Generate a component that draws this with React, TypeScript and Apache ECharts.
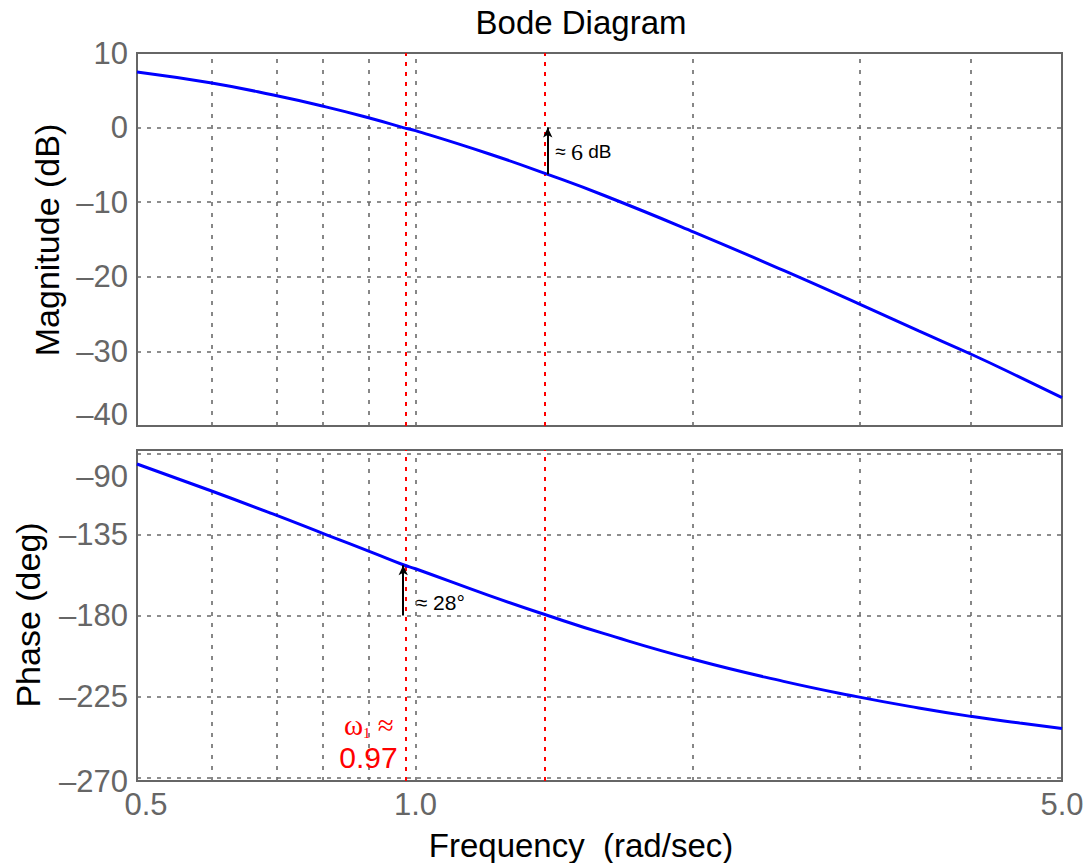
import React, { useEffect, useRef } from 'react';
import * as echarts from 'echarts';

// ---- data ----
const frequencies = [0.5, 0.6, 0.7, 0.8, 0.9, 0.97, 1.0, 1.2, 1.39, 1.6, 2.0, 2.5, 3.0, 3.5, 4.0, 4.5, 5.0];
const magnitudeDb = [7.45, 6.0, 4.4, 2.78, 1.15, 0.0, -0.4, -3.5, -6.27, -9.1, -14.0, -19.15, -23.5, -27.25, -30.45, -33.45, -36.2];
const phaseDeg = [-95.8, -110.5, -123.4, -135, -145.2, -151.8, -154, -168.8, -180, -190.1, -204.5, -216.6, -225.1, -231.4, -236.2, -239.8, -242.8];
const gridFrequencies = [0.6, 0.7, 0.8, 0.9, 1, 2, 3, 4];
const freqTickLabels = [0.5, 1.0, 5.0];
const magnitudeTicks = [-40, -30, -20, -10, 0, 10];
const phaseTicks = [-270, -225, -180, -135, -90];
const markerFrequencies = [0.97, 1.39];
const gainCrossover = 0.97;
const phaseCrossover = 1.39;
const magnitudeAtPhaseCrossover = -6.27;
const phaseAtGainCrossover = -152;

const SANS = '"Liberation Sans", Arial, Helvetica, sans-serif';
const SERIF = '"Liberation Serif", "DejaVu Serif", serif';
const TICK_COLOR = '#666666';
const GRID_COLOR = '#6a6a6a';
const TICK_FS = 31;

const LOG = (f: number) => Math.log10(f);
const minus = (v: number) => (v < 0 ? '\u2013' + Math.abs(v) : String(v));
const pts = (vals: number[]) => frequencies.map((f, i) => [LOG(f), vals[i]]);

export default function App() {
  const ref = useRef<HTMLDivElement>(null);

  useEffect(() => {
    if (!ref.current) return;
    const chart = echarts.init(ref.current, null, { renderer: 'svg' });

    const tickStyle = { fontFamily: SANS, fontSize: TICK_FS, color: TICK_COLOR };
    const vGrid = gridFrequencies.map((f) => ({
      xAxis: LOG(f),
      lineStyle: { color: GRID_COLOR, type: [4, 7], width: 1.6 },
    }));
    const hGrid = (vals: number[]) =>
      vals.map((v) => ({ yAxis: v, lineStyle: { color: GRID_COLOR, type: [4, 6], width: 1.6 } }));
    const redLines = markerFrequencies.map((f) => ({ xAxis: LOG(f) }));

    const xMin = LOG(0.5);
    const xMax = LOG(5);

    const curveStyle = { color: '#0000ff', width: 3 };

    const option = {
      animation: false,
      backgroundColor: '#ffffff',
      grid: [
        { left: 137, top: 53, width: 925, height: 373, show: true, borderColor: '#666666', borderWidth: 2, backgroundColor: 'transparent' },
        { left: 137, top: 450, width: 925, height: 331, show: true, borderColor: '#666666', borderWidth: 2, backgroundColor: 'transparent' },
      ],
      xAxis: [
        {
          type: 'value', gridIndex: 0, min: xMin, max: xMax,
          axisLabel: { show: false }, axisTick: { show: false }, axisLine: { show: false }, splitLine: { show: false },
        },
        {
          type: 'value', gridIndex: 1, min: xMin, max: xMax,
          axisTick: { show: false }, axisLine: { show: false }, splitLine: { show: false },
          axisLabel: {
            ...tickStyle,
            margin: 8,
            customValues: freqTickLabels.map(LOG),
            formatter: (v: number) => {
              const s = Math.pow(10, v).toFixed(1);
              return Math.abs(v - xMin) < 1e-6 ? '{lo|' + s + '}' : '{n|' + s + '}';
            },
            rich: {
              n: { ...tickStyle },
              lo: { ...tickStyle, padding: [0, 0, 0, 18] },
            },
          },
        },
      ],
      yAxis: [
        {
          type: 'value', gridIndex: 0, min: -40, max: 10, interval: 10,
          axisTick: { show: false }, axisLine: { show: false }, splitLine: { show: false },
          axisLabel: {
            ...tickStyle,
            margin: 9,
            formatter: (v: number) => (v === -40 ? '{lo|' + minus(v) + '}' : '{n|' + minus(v) + '}'),
            rich: {
              n: { ...tickStyle },
              lo: { ...tickStyle, padding: [0, 0, 23, 0] },
            },
          },
        },
        {
          type: 'value', gridIndex: 1, min: -272, max: -88,
          axisTick: { show: false }, axisLine: { show: false }, splitLine: { show: false },
          axisLabel: {
            ...tickStyle,
            margin: 9,
            customValues: phaseTicks,
            formatter: (v: number) =>
              v === -90 ? '{hi|' + minus(v) + '}' : v === -270 ? '{lo|' + minus(v) + '}' : '{n|' + minus(v) + '}',
            rich: {
              n: { ...tickStyle },
              hi: { ...tickStyle, padding: [46, 0, 0, 0] },
              lo: { ...tickStyle, padding: [9, 0, 0, 0] },
            },
          },
        },
      ],
      series: [
        // grid lines, top
        {
          type: 'line', xAxisIndex: 0, yAxisIndex: 0, data: [], silent: true,
          markLine: {
            z: 1, silent: true, symbol: ['none', 'none'], label: { show: false },
            data: [...vGrid, ...hGrid(magnitudeTicks.filter((v) => v > -40 && v < 10))],
          },
        },
        // grid lines, bottom
        {
          type: 'line', xAxisIndex: 1, yAxisIndex: 1, data: [], silent: true,
          markLine: {
            z: 1, silent: true, symbol: ['none', 'none'], label: { show: false },
            data: [...vGrid, ...hGrid(phaseTicks)],
          },
        },
        // red marker lines
        {
          type: 'line', xAxisIndex: 0, yAxisIndex: 0, data: [], silent: true,
          markLine: {
            z: 2, silent: true, symbol: ['none', 'none'], label: { show: false },
            lineStyle: { color: '#ff0000', type: [4, 6], width: 2 },
            data: redLines,
          },
        },
        {
          type: 'line', xAxisIndex: 1, yAxisIndex: 1, data: [], silent: true,
          markLine: {
            z: 2, silent: true, symbol: ['none', 'none'], label: { show: false },
            lineStyle: { color: '#ff0000', type: [4, 6], width: 2 },
            data: redLines,
          },
        },
        // magnitude curve
        {
          name: 'Magnitude', type: 'line', xAxisIndex: 0, yAxisIndex: 0, z: 5,
          data: pts(magnitudeDb), smooth: true, showSymbol: false, silent: true,
          lineStyle: curveStyle,
        },
        // phase curve
        {
          name: 'Phase', type: 'line', xAxisIndex: 1, yAxisIndex: 1, z: 5,
          data: pts(phaseDeg), smooth: true, showSymbol: false, silent: true,
          lineStyle: curveStyle,
        },
        // annotations top
        {
          type: 'line', xAxisIndex: 0, yAxisIndex: 0, data: [], silent: true,
          markLine: {
            z: 6, silent: true, label: { show: false }, symbolSize: [7, 10],
            lineStyle: { color: '#000000', type: 'solid', width: 2 },
            data: [[
              { coord: [LOG(phaseCrossover), magnitudeAtPhaseCrossover], symbol: 'none' },
              { coord: [LOG(phaseCrossover), 0], symbol: 'arrow' },
            ]],
          },
          markPoint: {
            z: 6, silent: true,
            data: [{
              coord: [LOG(phaseCrossover), -3.27], symbol: 'circle', symbolSize: 1,
              itemStyle: { color: 'transparent' },
              label: {
                show: true, position: 'right', distance: 7,
                formatter: '{a|\u2248 }{d|6}{b| dB}',
                rich: {
                  a: { fontFamily: SANS, fontSize: 19, color: '#000' },
                  d: { fontFamily: SERIF, fontSize: 24, color: '#000' },
                  b: { fontFamily: SANS, fontSize: 19, color: '#000' },
                },
              },
            }],
          },
        },
        // annotations bottom
        {
          type: 'line', xAxisIndex: 1, yAxisIndex: 1, data: [], silent: true,
          markLine: {
            z: 6, silent: true, label: { show: false }, symbolSize: [7, 10],
            lineStyle: { color: '#000000', type: 'solid', width: 2 },
            data: [[
              { coord: [LOG(gainCrossover), -180], symbol: 'none' },
              { coord: [LOG(gainCrossover), phaseAtGainCrossover], symbol: 'arrow' },
            ]],
          },
          markPoint: {
            z: 6, silent: true,
            data: [
              {
                coord: [LOG(gainCrossover), -172.5], symbol: 'circle', symbolSize: 1,
                itemStyle: { color: 'transparent' },
                label: {
                  show: true, position: 'right', distance: 12,
                  formatter: '\u2248 28\u00b0',
                  fontFamily: SANS, fontSize: 21, color: '#000',
                },
              },
              {
                coord: [LOG(gainCrossover), -241.1], symbol: 'circle', symbolSize: 1,
                itemStyle: { color: 'transparent' },
                label: {
                  show: true, position: 'left', distance: 9,
                  formatter: '{w|\u03c9}{s|1}{w| \u2248}',
                  rich: {
                    w: { fontFamily: SERIF, fontSize: 29, color: '#ff0000', lineHeight: 30 },
                    s: { fontFamily: SERIF, fontSize: 15, color: '#ff0000', verticalAlign: 'bottom', lineHeight: 14 },
                  },
                },
              },
              {
                coord: [LOG(gainCrossover), -258.9], symbol: 'circle', symbolSize: 1,
                itemStyle: { color: 'transparent' },
                label: {
                  show: true, position: 'left', distance: 5,
                  formatter: '0.97',
                  fontFamily: SANS, fontSize: 30, color: '#ff0000',
                },
              },
            ],
          },
        },
      ],
      graphic: [
        {
          type: 'text', x: 581, y: 22, silent: true,
          style: { text: 'Bode Diagram', fontFamily: SANS, fontSize: 33, fill: '#000', textAlign: 'center', textVerticalAlign: 'middle' },
        },
        {
          type: 'text', x: 581, y: 845, silent: true,
          style: { text: 'Frequency  (rad/sec)', fontFamily: SANS, fontSize: 33, fill: '#000', textAlign: 'center', textVerticalAlign: 'middle' },
        },
        {
          type: 'text', x: 47, y: 240, rotation: Math.PI / 2, silent: true,
          style: { text: 'Magnitude (dB)', fontFamily: SANS, fontSize: 34, fill: '#000', textAlign: 'center', textVerticalAlign: 'middle' },
        },
        {
          type: 'text', x: 28, y: 615, rotation: Math.PI / 2, silent: true,
          style: { text: 'Phase (deg)', fontFamily: SANS, fontSize: 34, fill: '#000', textAlign: 'center', textVerticalAlign: 'middle' },
        },
      ],
    };

    chart.setOption(option as any);
    return () => chart.dispose();
  }, []);

  return (
    <div
      ref={ref}
      style={{ position: 'absolute', left: 0, top: 0, width: 1088, height: 863, background: '#fff' }}
    />
  );
}
